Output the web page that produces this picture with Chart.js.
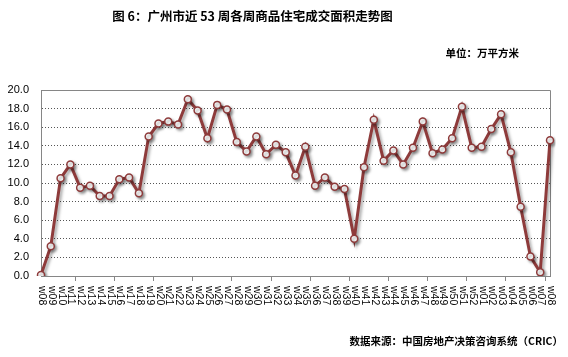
<!DOCTYPE html>
<html><head><meta charset="utf-8">
<script src="https://cdn.jsdelivr.net/npm/chart.js@4/dist/chart.umd.min.js"></script>
<style>
html,body{margin:0;padding:0;background:#fff;}
#wrap{position:relative;width:568px;height:357px;overflow:hidden;}
canvas{position:absolute;left:0;top:0;}
.t{position:absolute;font-family:"Noto Sans CJK SC";font-weight:bold;color:#000;white-space:nowrap;line-height:1;}
</style></head><body>
<div id="wrap">
<canvas id="c" width="568" height="357"></canvas>
<div class="t" style="left:0;width:505px;text-align:center;top:10px;font-size:12.5px;">图 6：广州市近 53 周各周商品住宅成交面积走势图</div>
<div class="t" style="right:49px;top:48px;font-size:10.5px;">单位：万平方米</div>
<div class="t" style="right:5px;top:336px;font-size:10.5px;">数据来源：中国房地产决策咨询系统（CRIC）</div>
</div>
<script>
const weekLabels = ["w08","w09","w10","w11","w12","w13","w14","w15","w16","w17","w18","w19","w20","w21","w22","w23","w24","w25","w26","w27","w28","w29","w30","w31","w32","w33","w34","w35","w36","w37","w38","w39","w40","w41","w42","w43","w44","w45","w46","w47","w48","w49","w50","w51","w52","w01","w02","w03","w04","w05","w06","w07","w08"];
const areaValues = [0.1,3.2,10.5,12.0,9.5,9.7,8.6,8.6,10.4,10.6,8.9,15.0,16.4,16.6,16.3,19.0,17.8,14.8,18.4,17.9,14.4,13.4,15.0,13.1,14.1,13.3,10.8,13.9,9.7,10.6,9.6,9.35,4.0,11.7,16.8,12.4,13.5,12.0,13.8,16.6,13.2,13.6,14.8,18.2,13.8,13.9,15.8,17.4,13.3,7.45,2.1,0.4,14.6];
const yMin = 0, yMax = 20, yStep = 2;

const lineColor = '#8E3B3B';
const axisGray = '#868686';

const framePlugin = {
  id: 'frame',
  beforeDatasetsDraw(chart) {
    const a = chart.chartArea, ctx = chart.ctx;
    ctx.save();
    ctx.strokeStyle = axisGray;
    ctx.lineWidth = 1;
    ctx.beginPath();
    ctx.moveTo(a.left, a.top + 0.5);
    ctx.lineTo(a.right + 0.5, a.top + 0.5);
    ctx.lineTo(a.right + 0.5, a.bottom);
    ctx.stroke();
    ctx.restore();
  }
};
const shadowPlugin = {
  id: 'shadow',
  beforeDatasetsDraw(chart) {
    const ctx = chart.ctx;
    ctx.save();
    ctx.shadowColor = 'rgba(0,0,0,0.35)';
    ctx.shadowBlur = 3;
    ctx.shadowOffsetX = 2;
    ctx.shadowOffsetY = 2;
  },
  afterDatasetsDraw(chart) { chart.ctx.restore(); }
};
const xLabelPlugin = {
  id: 'xlabels',
  afterDraw(chart) {
    const s = chart.scales.x, ctx = chart.ctx;
    ctx.save();
    ctx.font = '10.5px "Liberation Sans", Arial, sans-serif';
    ctx.fillStyle = '#000';
    ctx.textAlign = 'left';
    ctx.textBaseline = 'middle';
    weekLabels.forEach((l, i) => {
      const x = s.getPixelForValue(i);
      ctx.save();
      ctx.translate(x + 1, s.top + 10);
      ctx.rotate(Math.PI / 2);
      ctx.fillText(l, 0, 0);
      ctx.restore();
    });
    ctx.restore();
  }
};

new Chart(document.getElementById('c'), {
  type: 'line',
  data: {
    labels: weekLabels,
    datasets: [{
      data: areaValues,
      borderColor: lineColor,
      borderWidth: 3,
      pointRadius: 3.5,
      pointBackgroundColor: '#fff',
      pointBorderColor: lineColor,
      pointBorderWidth: 1.5,
      tension: 0
    }]
  },
  options: {
    responsive: false,
    animation: false,
    devicePixelRatio: 1,
    layout: { padding: { top: 90, right: 18, left: 0, bottom: 0 } },
    plugins: { legend: { display: false }, title: { display: false }, tooltip: { enabled: false } },
    scales: {
      x: {
        type: 'category',
        offset: false,
        afterFit: s => { s.height = 81; },
        ticks: { display: false, autoSkip: false },
        grid: {
          drawOnChartArea: false,
          drawTicks: true,
          tickLength: 5,
          offset: true,
          tickColor: c => (c.index > 0 && c.index % 4 === 0) ? axisGray : 'rgba(0,0,0,0)'
        },
        border: { display: true, color: axisGray, width: 1 }
      },
      y: {
        min: yMin, max: yMax,
        afterFit: s => { s.width = 41; },
        ticks: {
          stepSize: yStep,
          padding: 12,
          color: '#000',
          font: { family: '"Liberation Sans", Arial, sans-serif', size: 11 },
          callback: v => Number(v).toFixed(1)
        },
        grid: { color: '#555', lineWidth: 1, drawTicks: false },
        border: { display: true, color: axisGray, width: 1, dash: [1, 2] }
      }
    }
  },
  plugins: [framePlugin, shadowPlugin, xLabelPlugin]
});
</script>
</body></html>
